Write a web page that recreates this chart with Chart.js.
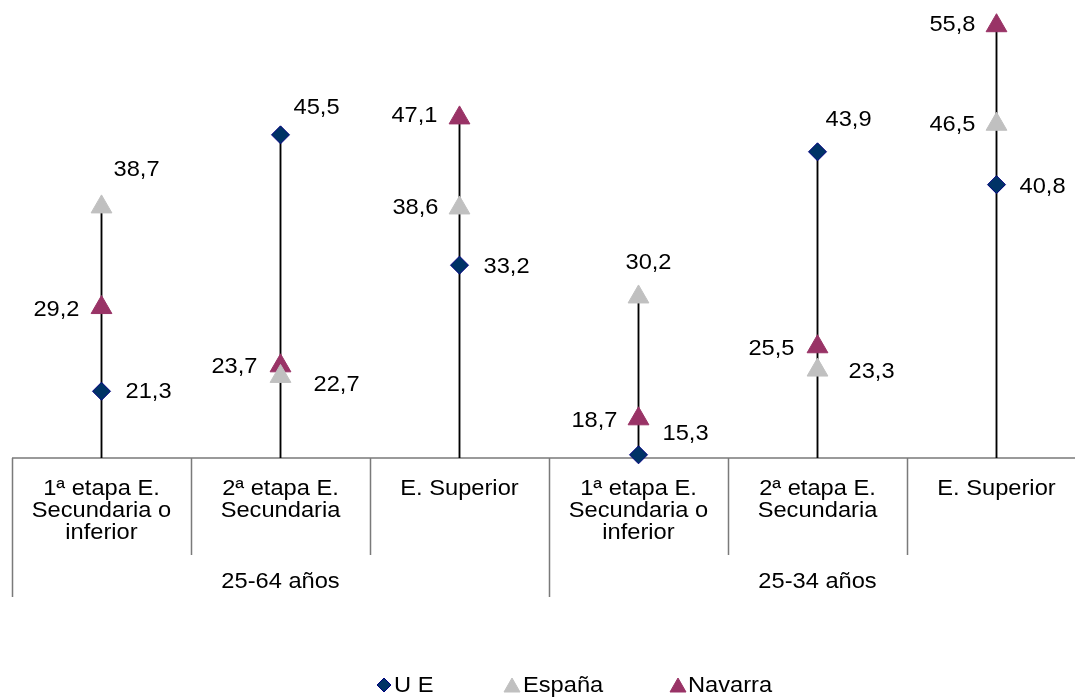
<!DOCTYPE html>
<html>
<head>
<meta charset="utf-8">
<script src="https://cdn.jsdelivr.net/npm/chart.js@4/dist/chart.umd.min.js"></script>
<style>
  html, body { margin: 0; padding: 0; background: #fff; overflow: hidden; }
</style>
</head>
<body>
<canvas id="chart" width="1075" height="698"></canvas>
<script>
/* ---------- DATA ---------- */

const categories = [
  ['1ª etapa E.', 'Secundaria o', 'inferior'],
  ['2ª etapa E.', 'Secundaria'],
  ['E. Superior'],
  ['1ª etapa E.', 'Secundaria o', 'inferior'],
  ['2ª etapa E.', 'Secundaria'],
  ['E. Superior']
];
const groups = ['25-64 años', '25-34 años'];
const seriesNames = ['U E', 'España', 'Navarra'];
const ueValues = [21.3, 45.5, 33.2, 15.3, 43.9, 40.8];
const espanaValues = [38.7, 22.7, 38.6, 30.2, 23.3, 46.5];
const navarraValues = [29.2, 23.7, 47.1, 18.7, 25.5, 55.8];

/* ---------- STYLE ---------- */

const FONT = '22px "Liberation Sans", Arial, sans-serif';
const STRETCH = 1.075;   // reference text is a bit wide
const AXIS_MIN = 15, AXIS_MAX = 57;
const LEFT = 12, CAT_W = 179, WIDTH = 1075;
// the last category runs past the right edge of the picture
const X_MAX = -0.5 + (WIDTH - LEFT) / CAT_W;

// label offsets relative to the marker: [dx, dy, align]
const labelPos = [
  [[24, 1, 'left'], [13, -27, 'left'], [24, 2, 'left'], [24, -21, 'left'], [8, -32, 'left'], [23, 2, 'left']],
  [[12, -37, 'left'], [33, 9, 'left'], [-21, 0, 'right'], [10, -34, 'center'], [31, 2, 'left'], [-21, 1, 'right']],
  [[-22, 2, 'right'], [-23, 1, 'right'], [-22, -2, 'right'], [-21, 2, 'right'], [-23, 2, 'right'], [-21, -1, 'right']]
];

const fmt = v => v.toFixed(1).replace('.', ',');

// text drawn slightly stretched horizontally, anchored at x
function drawText(ctx, t, x, y, align) {
  ctx.save();
  ctx.translate(x, y);
  ctx.scale(STRETCH, 1);
  ctx.textAlign = align;
  ctx.fillText(t, 0, 0);
  ctx.restore();
}

/* ---------- PLUGINS ---------- */

const axisPlugin = {
  id: 'axisPlugin',
  beforeDatasetsDraw(chart) {
    const { ctx, chartArea } = chart;
    const xs = chart.scales.x;
    const n = categories.length;
    const b = chartArea.bottom;
    ctx.save();
    ctx.strokeStyle = '#7a7a7a';
    ctx.lineWidth = 1.5;
    ctx.beginPath();
    ctx.moveTo(chartArea.left, b);
    ctx.lineTo(chartArea.right, b);
    for (let i = 0; i <= n; i++) {
      const x = Math.round(xs.getPixelForValue(i - 0.5)) + 0.5;
      ctx.moveTo(x, b);
      ctx.lineTo(x, i % 3 === 0 ? b + 139 : b + 97);
    }
    ctx.stroke();

    ctx.fillStyle = '#000';
    ctx.font = FONT;
    ctx.textBaseline = 'alphabetic';
    categories.forEach((lines, i) => {
      const x = xs.getPixelForValue(i);
      lines.forEach((t, k) => drawText(ctx, t, x, b + 37 + 22 * k, 'center'));
    });
    groups.forEach((g, j) => {
      const x = xs.getPixelForValue(j * 3 + 1);
      drawText(ctx, g, x, b + 130, 'center');
    });
    ctx.restore();
  }
};

const labelPlugin = {
  id: 'labelPlugin',
  afterDatasetsDraw(chart) {
    const { ctx } = chart;
    ctx.save();
    ctx.font = FONT;
    ctx.fillStyle = '#000';
    ctx.textBaseline = 'middle';
    [0, 1, 2].forEach(d => {
      const meta = chart.getDatasetMeta(d);
      meta.data.forEach((pt, i) => {
        const [dx, dy, al] = labelPos[d][i];
        drawText(ctx, fmt(chart.data.datasets[d].data[i].y), pt.x + dx, pt.y + dy, al);
      });
    });
    ctx.restore();
  }
};

const legendPlugin = {
  id: 'legendPlugin',
  afterDraw(chart) {
    const { ctx } = chart;
    const items = [
      { mx: 384, tx: 394 },
      { mx: 512, tx: 523 },
      { mx: 678, tx: 688 }
    ];
    const y = 685;
    ctx.save();
    ctx.font = FONT;
    ctx.textBaseline = 'middle';
    items.forEach((it, d) => {
      const ds = chart.data.datasets[d];
      ctx.fillStyle = ds.backgroundColor;
      ctx.strokeStyle = ds.borderColor;
      ctx.lineWidth = 1;
      ctx.beginPath();
      if (d === 0) {
        ctx.moveTo(it.mx - 7, y);
        ctx.lineTo(it.mx, y - 7);
        ctx.lineTo(it.mx + 7, y);
        ctx.lineTo(it.mx, y + 7);
      } else {
        ctx.moveTo(it.mx, y - 7);
        ctx.lineTo(it.mx + 8, y + 7);
        ctx.lineTo(it.mx - 8, y + 7);
      }
      ctx.closePath();
      ctx.fill();
      ctx.stroke();
      ctx.fillStyle = '#000';
      drawText(ctx, seriesNames[d], it.tx, y + 1, 'left');
    });
    ctx.restore();
  }
};

/* ---------- CHART ---------- */

const toPoints = vals => vals.map((v, i) => ({ x: i, y: v }));

const dropLines = categories.map((c, i) =>
  ({ x: i, y: [AXIS_MIN, Math.max(ueValues[i], espanaValues[i], navarraValues[i])] }));

const pointSet = (label, data, style, radius, fill, border) => ({
  type: 'line',
  label,
  data: toPoints(data),
  showLine: false,
  pointStyle: style,
  pointRadius: radius,
  pointHoverRadius: radius,
  pointBackgroundColor: fill,
  pointBorderColor: border,
  pointBorderWidth: 1,
  backgroundColor: fill,
  borderColor: border,
  clip: false,
  order: 1
});

new Chart(document.getElementById('chart'), {
  type: 'line',
  data: {
    datasets: [
      pointSet(seriesNames[0], ueValues, 'rectRot', 9, '#003366', '#000080'),
      pointSet(seriesNames[1], espanaValues, 'triangle', 12, '#C0C0C0', '#C0C0C0'),
      pointSet(seriesNames[2], navarraValues, 'triangle', 12, '#993366', '#993366'),
      {
        type: 'bar',
        label: 'drop',
        data: dropLines,
        backgroundColor: '#000',
        barThickness: 1.2,
        order: 10
      }
    ]
  },
  options: {
    responsive: false,
    animation: false,
    layout: { autoPadding: false, padding: { left: LEFT, right: 0, top: 13, bottom: 240 } },
    plugins: { legend: { display: false }, tooltip: { enabled: false } },
    scales: {
      x: { type: 'linear', display: false, min: -0.5, max: X_MAX, offset: false },
      y: { display: false, min: AXIS_MIN, max: AXIS_MAX }
    }
  },
  plugins: [axisPlugin, labelPlugin, legendPlugin]
});
</script>
</body>
</html>
